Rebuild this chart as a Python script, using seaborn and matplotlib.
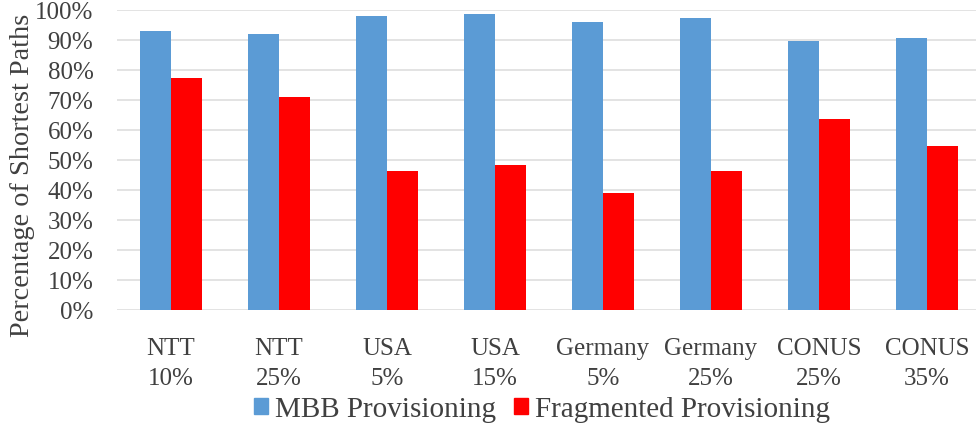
import matplotlib
matplotlib.use("Agg")
import matplotlib.pyplot as plt
import seaborn as sns
import pandas as pd
from matplotlib.patches import Patch

networks = ["NTT\n10%", "NTT\n25%", "USA\n5%", "USA\n15%",
            "Germany\n5%", "Germany\n25%", "CONUS\n25%", "CONUS\n35%"]
mbb = [0.930, 0.918, 0.978, 0.986, 0.958, 0.971, 0.897, 0.906]
fragmented = [0.773, 0.709, 0.461, 0.482, 0.388, 0.461, 0.637, 0.546]
methods = ["MBB Provisioning", "Fragmented Provisioning"]
colors = ["#5B9BD5", "#FF0000"]
yticks = [0.0, 0.1, 0.2, 0.3, 0.4, 0.5, 0.6, 0.7, 0.8, 0.9, 1.0]


def main():
    df = pd.DataFrame({
        "network": networks * 2,
        "value": mbb + fragmented,
        "method": [methods[0]] * len(networks) + [methods[1]] * len(networks),
    })

    sns.set_style("white")
    plt.rcParams["font.family"] = ["Liberation Serif", "DejaVu Serif"]
    text_color = "#404040"

    fig = plt.figure(figsize=(9.76, 4.31), dpi=100)
    ax = fig.add_axes([117 / 976, (431 - 310.7) / 431, 864 / 976, 300 / 431])

    sns.barplot(data=df, x="network", y="value", hue="method",
                palette=colors, saturation=1, width=0.575,
                linewidth=0, ax=ax, legend=False)

    ax.set_ylim(0, 1)
    ax.set_xlim(-0.5, len(networks) - 0.5)
    ax.set_yticks(yticks)
    ax.set_yticklabels([f"{int(round(t * 100))}%" for t in yticks])
    ax.yaxis.grid(True, color="#dedede", linewidth=1.2)
    ax.set_axisbelow(True)
    for s in ax.spines.values():
        s.set_visible(False)
    ax.tick_params(axis="y", length=0, pad=17, labelsize=18, labelcolor=text_color)
    ax.tick_params(axis="x", length=0, pad=19.5, labelsize=18, labelcolor=text_color)
    for lbl in ax.get_xticklabels():
        lbl.set_linespacing(1.5)
    ax.set_xlabel("")
    ax.set_ylabel("Percentage of Shortest Paths", fontsize=20.3, color=text_color)
    ax.yaxis.set_label_coords(-82 / 864, 0.452)

    handles = [Patch(color=c, label=m) for c, m in zip(colors, methods)]
    fig.legend(handles=handles, loc="center", bbox_to_anchor=(542 / 976, 1 - 410 / 431),
               ncol=2, frameon=False, fontsize=21, handlelength=0.48, handleheight=0.48,
               handletextpad=0.22, columnspacing=0.65, labelcolor=text_color,
               borderpad=0, borderaxespad=0)

    fig.savefig("out.png", dpi=100)


if __name__ == "__main__":
    main()
